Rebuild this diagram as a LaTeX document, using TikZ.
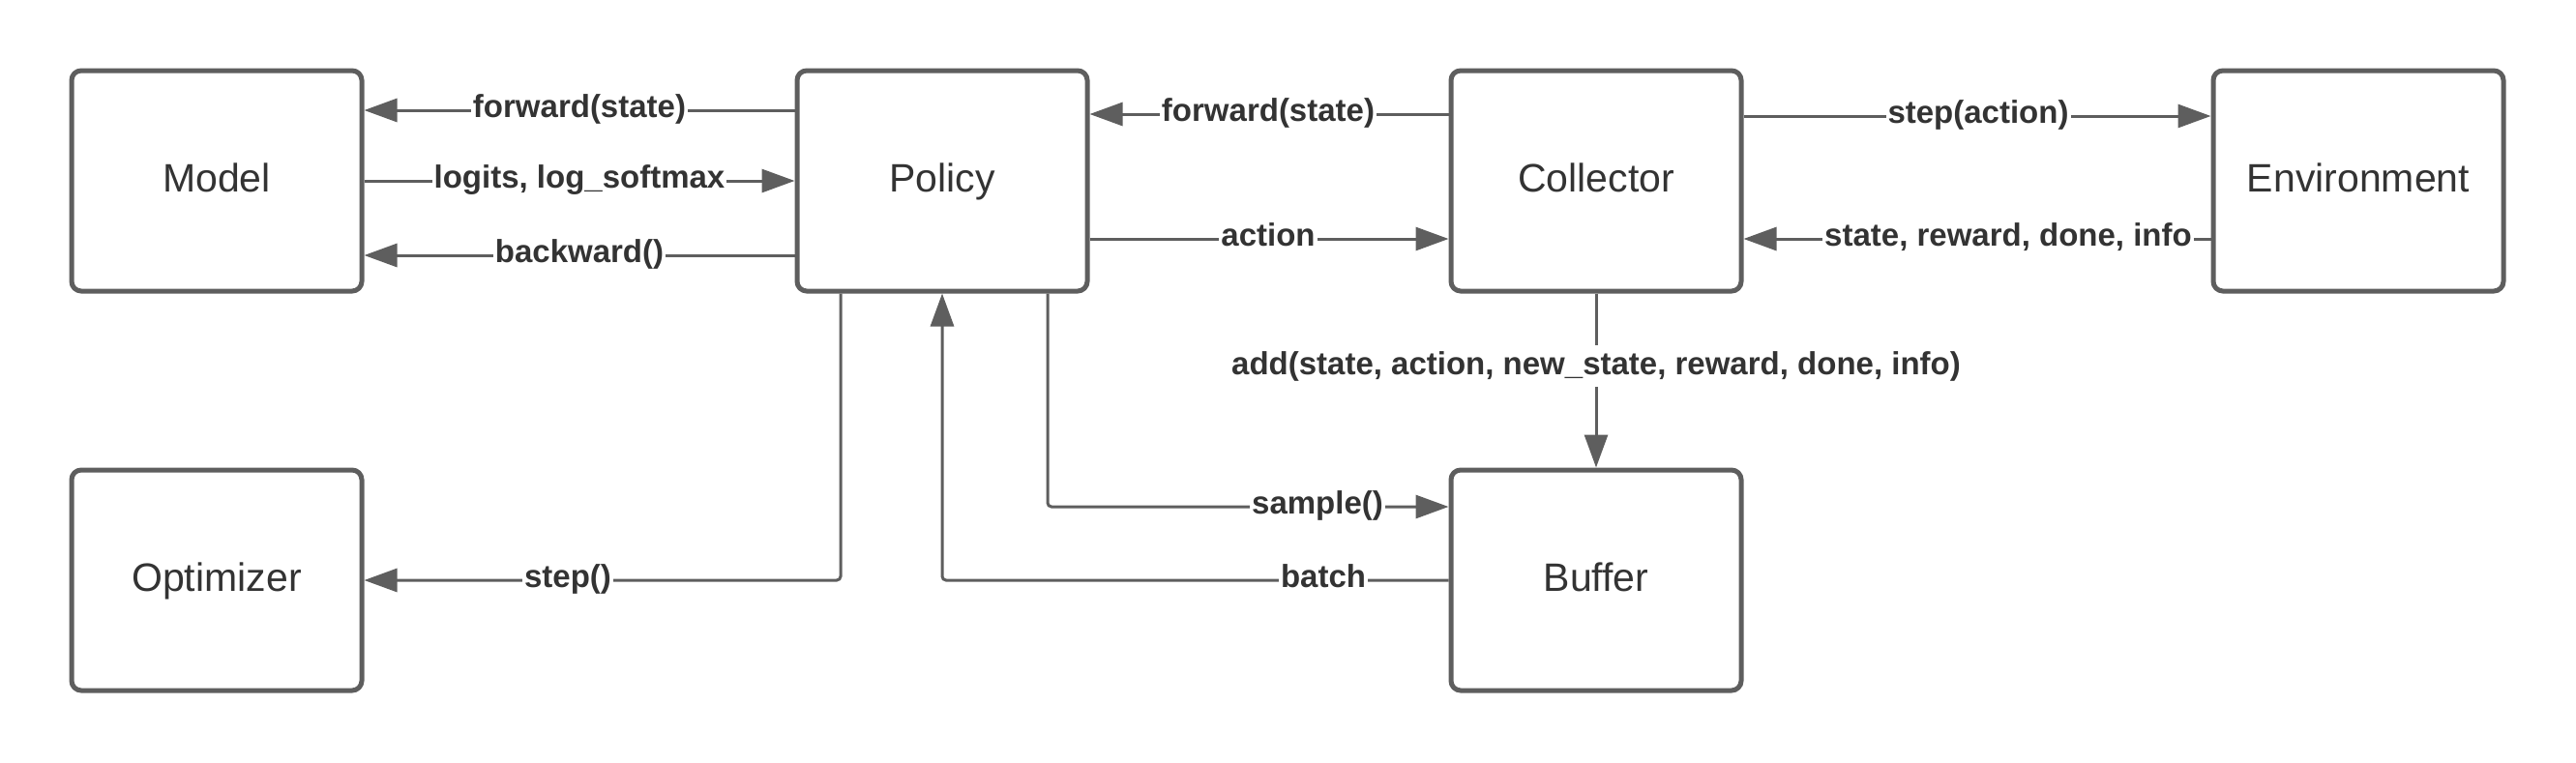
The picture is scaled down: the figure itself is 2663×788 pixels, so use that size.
\documentclass[tikz,border=0pt]{standalone}
\usepackage{fontspec}
\setmainfont{Liberation Sans}
\usetikzlibrary{arrows.meta}
\definecolor{linegray}{HTML}{5E5E5E}
\definecolor{textgray}{HTML}{333333}
\begin{document}
\begin{tikzpicture}[x=0.5pt,y=-0.5pt,
  box/.style={draw=linegray, line width=2.5pt, rounded corners=5pt,
    minimum width=150pt, minimum height=114pt, fill=white, inner sep=0pt,
    text=textgray, font=\fontsize{20.5}{24}\selectfont,
    text height=15pt, text depth=4pt},
  conn/.style={draw=linegray, line width=1.5pt,
    -{Triangle[length=17pt,width=12pt]}},
  lbl/.style={fill=white, text=textgray,
    font=\fontsize{16.5}{19}\selectfont\bfseries,
    inner xsep=1pt, inner ysep=3pt, anchor=base}]
\useasboundingbox[fill=white] (0,0) rectangle (2663,788);

\node[box] (model) at (224,187) {Model};
\node[box] (policy) at (974,187) {Policy};
\node[box] (collector) at (1650,187) {Collector};
\node[box] (env) at (2438,187) {Environment};
\node[box] (optimizer) at (224,600) {Optimizer};
\node[box] (buffer) at (1650,600) {Buffer};

\draw[conn] ([yshift=36.5pt]policy.west) -- ([yshift=36.5pt]model.east);
\draw[conn] (model.east) -- (policy.west);
\draw[conn] ([yshift=-38.5pt]policy.west) -- ([yshift=-38.5pt]model.east);
\draw[conn] ([yshift=34.5pt]collector.west) -- ([yshift=34.5pt]policy.east);
\draw[conn] ([yshift=-30pt]policy.east) -- ([yshift=-30pt]collector.west);
\draw[conn] ([yshift=33.5pt]collector.east) -- ([yshift=33.5pt]env.west);
\draw[conn] ([yshift=-30pt]env.west) -- ([yshift=-30pt]collector.east);
\draw[conn] (collector.south) -- (buffer.north);
\draw[conn, rounded corners=2pt] ([xshift=-52.5pt]policy.south) |- (optimizer.east);
\draw[conn, rounded corners=2pt] (buffer.west) -| (policy.south);
\draw[conn, rounded corners=2pt] ([xshift=54.5pt]policy.south) |- ([yshift=38pt]buffer.west);

\node[lbl] (l1) at (599,121) {forward(state)};
\node[lbl] (l2) at (599,194) {logits, log\_softmax};
\node[lbl] (l3) at (599,271) {backward()};
\node[lbl] (l4) at (1311,125) {forward(state)};
\node[lbl] (l5) at (1311,254) {action};
\node[lbl] (l6) at (2045,127) {step(action)};
\node[lbl] (l7) at (2076,254) {state, reward, done, info};
\node[lbl] (l8) at (1650,387) {add(state, action, new\_state, reward, done, info)};
\node[lbl] (l9) at (587,607) {step()};
\node[lbl] (l10) at (1368,607) {batch};
\node[lbl] (l11) at (1362,531) {sample()};
\end{tikzpicture}
\end{document}
